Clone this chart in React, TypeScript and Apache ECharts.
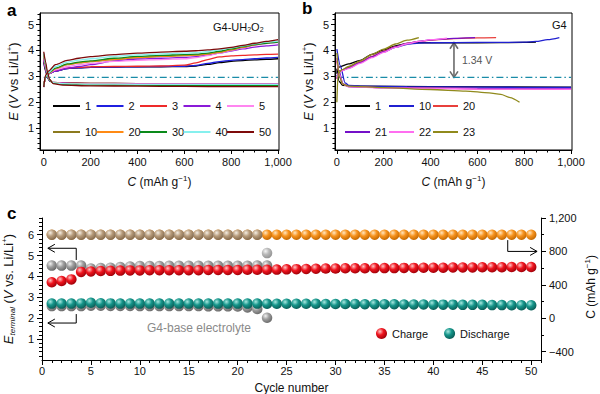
import { useEffect, useRef } from 'react';
import * as echarts from 'echarts';

const FONT = '"Liberation Sans", Arial, Helvetica, sans-serif';
const INK = '#111111';

// ---------------- Panel a : G4-UH2O2 ----------------
const cyclesA = ['1', '2', '3', '4', '5', '10', '20', '30', '40', '50'];
const colorsA = ['#000000', '#1f1fe0', '#ee2a2a', '#8a1ad8', '#ff86f0', '#8c7a1e', '#ff8a14', '#0a8a1a', '#86f0ee', '#7e0a0a'];
const chargeCapA = [0, 8, 20, 50, 100, 150, 200, 300, 400, 500, 600, 650, 700, 750, 800, 850, 900, 950, 1000];
const chargeVA = [
  [2.58, 3.0, 3.1, 3.2, 3.3, 3.33, 3.35, 3.36, 3.37, 3.37, 3.38, 3.4, 3.46, 3.53, 3.58, 3.61, 3.64, 3.66, 3.68],
  [2.6, 3.0, 3.1, 3.2, 3.3, 3.33, 3.35, 3.36, 3.37, 3.38, 3.39, 3.42, 3.5, 3.57, 3.62, 3.65, 3.68, 3.71, 3.73],
  [2.6, 3.0, 3.1, 3.22, 3.32, 3.35, 3.37, 3.38, 3.39, 3.4, 3.43, 3.52, 3.65, 3.75, 3.79, 3.81, 3.83, 3.85, 3.86],
  [2.62, 3.0, 3.1, 3.2, 3.32, 3.38, 3.45, 3.6, 3.67, 3.7, 3.73, 3.76, 3.82, 3.9, 3.98, 4.06, 4.13, 4.18, 4.22],
  [2.62, 3.0, 3.1, 3.25, 3.38, 3.45, 3.5, 3.58, 3.62, 3.65, 3.68, 3.72, 3.8, 3.9, 4.0, 4.1, 4.2, 4.27, 4.3],
  [2.62, 3.0, 3.12, 3.3, 3.45, 3.52, 3.57, 3.65, 3.72, 3.77, 3.8, 3.82, 3.86, 3.93, 4.02, 4.12, 4.22, 4.3, 4.35],
  [2.62, 3.0, 3.12, 3.3, 3.46, 3.53, 3.58, 3.66, 3.73, 3.78, 3.81, 3.83, 3.87, 3.94, 4.03, 4.13, 4.23, 4.3, 4.35],
  [2.62, 3.0, 3.13, 3.32, 3.48, 3.55, 3.6, 3.7, 3.77, 3.81, 3.84, 3.86, 3.9, 3.97, 4.06, 4.15, 4.23, 4.28, 4.32],
  [2.62, 3.0, 3.15, 3.38, 3.55, 3.63, 3.68, 3.77, 3.83, 3.87, 3.9, 3.92, 3.96, 4.02, 4.1, 4.18, 4.26, 4.32, 4.36],
  [2.6, 3.05, 3.2, 3.45, 3.62, 3.7, 3.76, 3.84, 3.9, 3.94, 3.97, 3.99, 4.02, 4.06, 4.12, 4.2, 4.28, 4.35, 4.42],
];
const dischargeCapA = [0, 8, 16, 25, 40, 80, 200, 400, 600, 800, 1000];
const dischargeVA = [
  [3.55, 3.2, 2.95, 2.82, 2.76, 2.74, 2.73, 2.72, 2.72, 2.72, 2.72],
  [3.6, 3.25, 2.97, 2.83, 2.77, 2.74, 2.72, 2.71, 2.71, 2.71, 2.71],
  [3.65, 3.3, 3.0, 2.84, 2.77, 2.74, 2.73, 2.72, 2.72, 2.72, 2.72],
  [3.7, 3.32, 3.0, 2.84, 2.76, 2.73, 2.71, 2.7, 2.7, 2.7, 2.7],
  [3.75, 3.35, 3.02, 2.85, 2.76, 2.73, 2.71, 2.7, 2.7, 2.7, 2.7],
  [3.85, 3.42, 3.05, 2.85, 2.75, 2.7, 2.68, 2.67, 2.67, 2.66, 2.66],
  [3.85, 3.43, 3.05, 2.86, 2.76, 2.71, 2.69, 2.68, 2.68, 2.68, 2.68],
  [3.88, 3.45, 3.06, 2.85, 2.74, 2.69, 2.67, 2.66, 2.65, 2.65, 2.65],
  [3.9, 3.47, 3.07, 2.86, 2.76, 2.72, 2.7, 2.69, 2.69, 2.69, 2.69],
  [3.95, 3.55, 3.15, 2.88, 2.72, 2.66, 2.63, 2.62, 2.61, 2.6, 2.6],
];

// ---------------- Panel b : G4 ----------------
const cyclesB = ['1', '10', '20', '21', '22', '23'];
const colorsB = ['#000000', '#2020d0', '#e8403c', '#7410c8', '#ff6ef0', '#908a1c'];
const chargeB = [
  [[0, 3.1], [5, 3.35], [50, 3.48], [100, 3.62], [150, 3.85], [200, 4.02], [250, 4.18], [300, 4.27], [350, 4.3], [400, 4.3], [600, 4.3], [800, 4.31], [850, 4.32]],
  [[0, 3.0], [10, 3.2], [50, 3.35], [100, 3.55], [150, 3.76], [200, 3.95], [250, 4.12], [300, 4.24], [350, 4.29], [400, 4.3], [600, 4.31], [800, 4.32], [850, 4.35], [900, 4.42], [950, 4.5]],
  [[0, 2.9], [10, 3.2], [50, 3.33], [100, 3.55], [150, 3.77], [200, 3.97], [250, 4.15], [300, 4.27], [350, 4.35], [400, 4.4], [500, 4.46], [600, 4.49], [680, 4.5]],
  [[0, 2.9], [10, 3.18], [50, 3.32], [100, 3.53], [150, 3.75], [200, 3.95], [250, 4.14], [300, 4.27], [350, 4.35], [400, 4.41], [500, 4.47], [590, 4.5]],
  [[0, 2.9], [10, 3.18], [50, 3.3], [100, 3.5], [150, 3.72], [200, 3.93], [250, 4.12], [300, 4.26], [350, 4.35], [400, 4.42], [470, 4.48]],
  [[0, 2.0], [5, 3.1], [20, 3.25], [50, 3.38], [100, 3.6], [150, 3.85], [200, 4.05], [250, 4.25], [300, 4.4], [350, 4.5]],
];
const dischargeB = [
  [[0, 3.3], [10, 2.8], [25, 2.65], [100, 2.62], [400, 2.6], [1000, 2.58]],
  [[0, 4.05], [15, 3.4], [35, 2.75], [50, 2.65], [100, 2.62], [300, 2.6], [600, 2.58], [1000, 2.57]],
  [[0, 3.6], [10, 3.1], [25, 2.7], [50, 2.6], [200, 2.56], [600, 2.52], [1000, 2.5]],
  [[0, 3.7], [10, 3.2], [25, 2.72], [50, 2.6], [200, 2.56], [600, 2.53], [1000, 2.52]],
  [[0, 3.7], [10, 3.1], [25, 2.7], [50, 2.6], [200, 2.55], [600, 2.51], [1000, 2.5]],
  [[0, 3.9], [10, 3.0], [25, 2.7], [50, 2.62], [200, 2.56], [400, 2.49], [550, 2.43], [650, 2.36], [700, 2.3], [740, 2.18], [780, 2.0]],
];
const refV = 2.96;
const gapCap = 500;
const gapLow = 2.96;
const gapHigh = 4.3;
const gapLabel = '1.34 V';

// ---------------- Panel c : cycling ----------------
const cycleNo = [1, 2, 3, 4, 5, 6, 7, 8, 9, 10, 11, 12, 13, 14, 15, 16, 17, 18, 19, 20, 21, 22, 23, 24, 25,
  26, 27, 28, 29, 30, 31, 32, 33, 34, 35, 36, 37, 38, 39, 40, 41, 42, 43, 44, 45, 46, 47, 48, 49, 50];
const chargeEC = [3.72, 3.78, 3.86, 4.22, 4.24, 4.26, 4.27, 4.28, 4.29, 4.29, 4.3, 4.3, 4.3, 4.3, 4.3, 4.3, 4.31, 4.31, 4.31, 4.31,
  4.32, 4.32, 4.32, 4.33, 4.34, 4.35, 4.36, 4.37, 4.38, 4.38, 4.39, 4.39, 4.39, 4.4, 4.4, 4.4, 4.41, 4.41, 4.42, 4.42,
  4.42, 4.43, 4.43, 4.43, 4.44, 4.44, 4.44, 4.45, 4.45, 4.45];
const dischargeEC = [2.7, 2.7, 2.7, 2.71, 2.74, 2.72, 2.71, 2.7, 2.7, 2.7, 2.7, 2.7, 2.7, 2.7, 2.7, 2.7, 2.7, 2.7, 2.7, 2.7,
  2.7, 2.7, 2.69, 2.69, 2.69, 2.69, 2.69, 2.69, 2.68, 2.68, 2.68, 2.68, 2.67, 2.67, 2.67, 2.67, 2.66, 2.66, 2.66, 2.65,
  2.65, 2.65, 2.64, 2.64, 2.64, 2.63, 2.63, 2.62, 2.62, 2.62];
const capacityC = [1000, 1000, 1000, 1000, 1000, 1000, 1000, 1000, 1000, 1000, 1000, 1000, 1000, 1000, 1000, 1000, 1000, 1000, 1000, 1000,
  1000, 1000, 1000, 1000, 1000, 1000, 1000, 1000, 1000, 1000, 1000, 1000, 1000, 1000, 1000, 1000, 1000, 1000, 1000, 1000,
  1000, 1000, 1000, 1000, 1000, 1000, 1000, 1000, 1000, 1000];
const baseChargeE = [4.52, 4.52, 4.52, 4.52, 4.38, 4.4, 4.42, 4.45, 4.48, 4.5, 4.5, 4.5, 4.51, 4.51, 4.51, 4.51, 4.51, 4.51, 4.51, 4.51, 4.51, 4.52, 4.52];
const baseDischargeE = [2.58, 2.58, 2.58, 2.58, 2.6, 2.6, 2.59, 2.59, 2.59, 2.58, 2.58, 2.58, 2.58, 2.58, 2.58, 2.58, 2.57, 2.57, 2.57, 2.56, 2.52, 2.44, 2.02];
const baseCapacity = [1000, 1000, 1000, 1000, 1000, 1000, 1000, 1000, 1000, 1000, 1000, 1000, 1000, 1000, 1000, 1000, 1000, 1000, 1000, 1000, 1000, 1000, 780];

// ---------------- tick labels ----------------
const ticksCap = [0, 200, 400, 600, 800, 1000];
const ticksV = [1, 2, 3, 4, 5];
const ticksCycle = [0, 5, 10, 15, 20, 25, 30, 35, 40, 45, 50];
const ticksEC = [1, 2, 3, 4, 5, 6];
const ticksCapC = [-400, 0, 400, 800, 1200];

const steps = (from: number, to: number, step: number) => {
  const out: number[] = [];
  for (let v = from; v <= to + 1e-9; v += step) out.push(Math.round(v * 1000) / 1000);
  return out;
};
const minus = (all: number[], major: number[]) => all.filter((v) => !major.some((m) => Math.abs(m - v) < 1e-6));
const fmtNum = (v: number) => {
  const a = Math.abs(v);
  const s = a >= 1000 ? a.toLocaleString('en-US') : String(a);
  return v < 0 ? '\u2212' + s : s;
};

const base = { fontFamily: FONT, color: INK };
const rich = {
  n: { ...base, fontSize: 12, lineHeight: 16 },
  i: { ...base, fontSize: 12, lineHeight: 16, fontStyle: 'italic' },
  N: { ...base, fontSize: 13, lineHeight: 16 },
  I: { ...base, fontSize: 13, lineHeight: 16, fontStyle: 'italic' },
  sup: { ...base, fontSize: 8, lineHeight: 8, verticalAlign: 'top' },
  sub: { ...base, fontSize: 8, lineHeight: 8, verticalAlign: 'bottom' },
  subi: { ...base, fontSize: 8, lineHeight: 8, verticalAlign: 'bottom', fontStyle: 'italic' },
};

type AxisCfg = {
  grid: number; position: string; min: number; max: number; labels: number[]; major: number[]; minor: number[];
  tickLen: number; minorLen: number; margin: number; name?: string; nameGap?: number; nameRotate?: number;
};
function axisPair(c: AxisCfg) {
  const line = { color: '#000', width: 1 };
  return [
    {
      type: 'value', gridIndex: c.grid, position: c.position, min: c.min, max: c.max,
      axisLine: { show: true, onZero: false, lineStyle: line },
      axisTick: { show: true, inside: false, length: c.tickLen, customValues: c.major, lineStyle: line },
      axisLabel: { show: true, customValues: c.labels, margin: c.margin, formatter: fmtNum, color: INK, fontSize: 11, fontFamily: FONT },
      splitLine: { show: false },
      name: c.name, nameLocation: 'middle', nameGap: c.nameGap, nameRotate: c.nameRotate,
      nameTextStyle: { rich },
    },
    {
      type: 'value', gridIndex: c.grid, position: c.position, min: c.min, max: c.max,
      axisLine: { show: false, onZero: false },
      axisTick: { show: true, inside: false, length: c.minorLen, customValues: c.minor, lineStyle: line },
      axisLabel: { show: false },
      splitLine: { show: false },
    },
  ];
}

const sphere = (light: string, mid: string, dark: string) =>
  new echarts.graphic.RadialGradient(0.36, 0.32, 0.72, [
    { offset: 0, color: light },
    { offset: 0.45, color: mid },
    { offset: 1, color: dark },
  ]);

function buildOption() {
  const capName = '{i|C}{n| (mAh g}{sup|\u22121}{n|)}';
  const eName = '{I|E}{N| (}{I|V}{N| vs Li/Li}{sup|+}{N|)}';
  const capMinor = minus(steps(0, 1000, 50), ticksCap);
  const vMinor = minus(steps(0.2, 5.4, 0.2), ticksV);

  const xAxis = [
    ...axisPair({ grid: 0, position: 'bottom', min: -16, max: 1004, labels: ticksCap, major: ticksCap, minor: capMinor, tickLen: 4, minorLen: 2.5, margin: 6, name: capName, nameGap: 24 }),
    ...axisPair({ grid: 1, position: 'bottom', min: -8, max: 1004, labels: ticksCap, major: ticksCap, minor: capMinor, tickLen: 4, minorLen: 2.5, margin: 6, name: capName, nameGap: 24 }),
    ...axisPair({ grid: 2, position: 'bottom', min: 0, max: 51, labels: ticksCycle, major: ticksCycle, minor: minus(steps(0, 51, 1), ticksCycle), tickLen: 5, minorLen: 3, margin: 5, name: '{n|Cycle number}', nameGap: 20 }),
  ];
  const yAxis = [
    ...axisPair({ grid: 0, position: 'left', min: 0.15, max: 5.45, labels: ticksV, major: ticksV, minor: vMinor, tickLen: 4, minorLen: 2.5, margin: 6, name: eName, nameGap: 19, nameRotate: 90 }),
    ...axisPair({ grid: 1, position: 'left', min: 0.15, max: 5.45, labels: ticksV, major: ticksV, minor: vMinor, tickLen: 4, minorLen: 2.5, margin: 6, name: eName, nameGap: 19, nameRotate: 90 }),
    ...axisPair({ grid: 2, position: 'left', min: 0, max: 6.8, labels: ticksEC, major: ticksEC, minor: minus(steps(0.2, 6.8, 0.2), ticksEC), tickLen: 5, minorLen: 3, margin: 8, name: '{I|E}{subi|terminal}{N| (}{I|V}{N| vs. Li/Li}{sup|+}{N|)}', nameGap: 22, nameRotate: 90 }),
    ...axisPair({ grid: 2, position: 'right', min: -500, max: 1200, labels: ticksCapC, major: ticksCapC, minor: [-200, 200, 600, 1000], tickLen: 5, minorLen: 3, margin: 8 }),
  ];

  const series: any[] = [];
  const lineSeries = (name: string, color: string, xi: number, yi: number, data: number[][]) => ({
    type: 'line', name, xAxisIndex: xi, yAxisIndex: yi, data, showSymbol: false, smooth: 0.25, smoothMonotone: 'x',
    lineStyle: { color, width: 1.3 }, itemStyle: { color }, emphasis: { disabled: true }, silent: true,
  });
  const refLine = (xi: number, yi: number) => ({
    type: 'line', name: 'ref', xAxisIndex: xi, yAxisIndex: yi, data: [[0, refV], [1000, refV]], showSymbol: false,
    lineStyle: { color: '#1a8ca8', width: 1.3, type: [7, 3, 1.5, 3] }, silent: true, z: 3,
  });
  series.push(refLine(0, 0));
  cyclesA.forEach((c, i) => {
    series.push(lineSeries('a' + c, colorsA[i], 0, 0, chargeCapA.map((x, k) => [x, chargeVA[i][k]])));
    series.push(lineSeries('a' + c, colorsA[i], 0, 0, dischargeCapA.map((x, k) => [x, dischargeVA[i][k]])));
  });
  series.push(refLine(2, 2));
  cyclesB.forEach((c, i) => {
    series.push(lineSeries('b' + c, colorsB[i], 2, 2, chargeB[i]));
    series.push(lineSeries('b' + c, colorsB[i], 2, 2, dischargeB[i]));
  });

  const red = sphere('#ffc4c4', '#f0141e', '#9c0008');
  const teal = sphere('#a8e8e0', '#15958a', '#0a5a54');
  const orange = sphere('#ffe6c0', '#f7931e', '#c06600');
  const gray = sphere('#f2f2f2', '#9e9e9e', '#676767');
  const scatter = (name: string, yi: number, vals: number[], color: any, opacity = 1) => ({
    type: 'scatter', name, xAxisIndex: 4, yAxisIndex: yi, symbolSize: 10.5,
    data: vals.map((v, k) => [cycleNo[k], v]),
    itemStyle: { color, opacity }, silent: true,
  });
  series.push(scatter('Capacity', 6, capacityC, orange));
  series.push(scatter('G4 capacity', 6, baseCapacity, gray, 0.72));
  series.push(scatter('G4 charge', 4, baseChargeE, gray));
  series.push(scatter('G4 discharge', 4, baseDischargeE, gray));
  series.push(scatter('Charge', 4, chargeEC, red));
  series.push(scatter('Discharge', 4, dischargeEC, teal));

  const legendBase = {
    orient: 'vertical', icon: 'rect', itemHeight: 2, itemGap: 12, padding: 0, selectedMode: false,
    textStyle: { fontSize: 11, fontFamily: FONT, color: INK, lineHeight: 14 },
    formatter: (n: string) => n.slice(1),
  };
  const colsA = [['a1', 'a10'], ['a2', 'a20'], ['a3', 'a30'], ['a4', 'a40'], ['a5', 'a50']];
  const colsB = [['b1', 'b21'], ['b10', 'b22'], ['b20', 'b23']];
  const legend: any[] = [
    ...colsA.map((d, i) => ({ ...legendBase, data: d, left: 53 + i * 43.5, top: 99, itemWidth: 27 })),
    ...colsB.map((d, i) => ({ ...legendBase, data: d, left: 345 + i * 44, top: 99, itemWidth: 25 })),
    {
      data: ['Charge', 'Discharge'], orient: 'horizontal', left: 376, top: 328, padding: 0, itemGap: 16,
      itemWidth: 11, itemHeight: 11, icon: 'circle', selectedMode: false,
      textStyle: { fontSize: 11, fontFamily: FONT, color: INK },
    },
  ];

  return {
    animation: false,
    textStyle: { fontFamily: FONT },
    grid: [
      { left: 40, top: 13, width: 239, height: 137, show: true, borderColor: '#000', borderWidth: 1, backgroundColor: 'transparent', outerBoundsMode: 'none', containLabel: false },
      { left: 335, top: 13, width: 237, height: 137, show: true, borderColor: '#000', borderWidth: 1, backgroundColor: 'transparent', outerBoundsMode: 'none', containLabel: false },
      { left: 42, top: 218, width: 499, height: 142, outerBoundsMode: 'none', containLabel: false },
    ],
    xAxis, yAxis, series, legend,
  };
}

function chevron(tip: number[], dir: 'left' | 'right' | 'up' | 'down', len: number, half: number) {
  const [x, y] = tip;
  if (dir === 'left') return [[x + len, y - half], [x, y], [x + len, y + half]];
  if (dir === 'right') return [[x - len, y - half], [x, y], [x - len, y + half]];
  if (dir === 'up') return [[x - half, y + len], [x, y], [x + half, y + len]];
  return [[x - half, y - len], [x, y], [x + half, y - len]];
}

export default function App() {
  const ref = useRef<HTMLDivElement>(null);
  useEffect(() => {
    const chart = echarts.init(ref.current!, null, { renderer: 'svg' });
    chart.setOption(buildOption());
    const P = (xi: number, yi: number, x: number, y: number) =>
      chart.convertToPixel({ xAxisIndex: xi, yAxisIndex: yi }, [x, y]) as number[];

    const gTop = P(2, 2, gapCap, gapHigh);
    const gBot = P(2, 2, gapCap, gapLow);
    const arrowGray = '#6a6a6a';

    const up1 = [P(4, 4, 3.5, 4.79), P(4, 4, 3.5, 5.35), P(4, 4, 0.6, 5.35)];
    const lo1 = [P(4, 4, 3.5, 2.2), P(4, 4, 3.5, 1.77), P(4, 4, 0.6, 1.77)];
    const rt1 = [P(4, 6, 47.6, 935), P(4, 6, 47.6, 800), P(4, 6, 50.6, 800)];
    const midRight = P(4, 6, 51, 375);

    const txt = (text: string, x: number, y: number, extra: any = {}) => ({
      type: 'text', x, y, silent: true,
      style: { text, fontFamily: FONT, fontSize: 11, fill: INK, align: 'left', verticalAlign: 'middle', ...extra },
    });
    const pl = (points: number[][], stroke: string, lineWidth: number) => ({
      type: 'polyline', silent: true, shape: { points }, style: { stroke, lineWidth, fill: 'none' },
    });

    chart.setOption({
      graphic: [
        txt('a', 7, 10, { fontSize: 17, fontWeight: 'bold', fill: '#000' }),
        txt('b', 302, 8, { fontSize: 17, fontWeight: 'bold', fill: '#000' }),
        txt('c', 7, 213, { fontSize: 17, fontWeight: 'bold', fill: '#000' }),
        txt('G4-UH{s|2}O{s|2}', 213, 27, { rich: { s: { fontSize: 7, fontFamily: FONT, fill: INK, verticalAlign: 'bottom', lineHeight: 7 } } }),
        txt('G4', 552, 25),
        txt(gapLabel, gTop[0] + 8, (gTop[1] + gBot[1]) / 2, { fill: '#555', fontSize: 10.5 }),
        { type: 'line', silent: true, shape: { x1: gTop[0], y1: gTop[1], x2: gBot[0], y2: gBot[1] }, style: { stroke: arrowGray, lineWidth: 1.6 } },
        pl(chevron(gTop, 'up', 6, 4), arrowGray, 1.6),
        pl(chevron(gBot, 'down', 6, 4), arrowGray, 1.6),
        txt('G4-base electrolyte', 199, 328, { align: 'center', fontSize: 12, fill: '#8a8a8a' }),
        pl(up1, '#000', 1),
        pl(chevron(up1[2], 'left', 7, 4), '#000', 1),
        pl(lo1, '#000', 1),
        pl(chevron(lo1[2], 'left', 7, 4), '#000', 1),
        pl(rt1, '#000', 1),
        pl(chevron(rt1[2], 'right', 7, 4), '#000', 1),
        {
          type: 'text', x: 591, y: midRight[1], rotation: Math.PI / 2, silent: true,
          style: {
            text: '{n|C (mAh g}{s|\u22121}{n|)}', align: 'center', verticalAlign: 'middle',
            rich: {
              n: { fontSize: 12, fontFamily: FONT, fill: INK, lineHeight: 15 },
              s: { fontSize: 8, fontFamily: FONT, fill: INK, lineHeight: 8, verticalAlign: 'top' },
            },
          },
        },
      ],
    });
    return () => chart.dispose();
  }, []);
  return <div ref={ref} style={{ position: 'fixed', left: 0, top: 0, width: 600, height: 394, background: '#fff' }} />;
}
